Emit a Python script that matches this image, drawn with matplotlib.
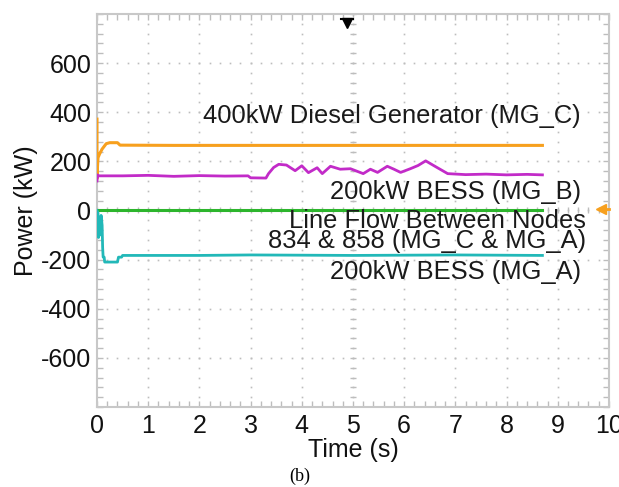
import matplotlib
matplotlib.use("Agg")
import matplotlib.pyplot as plt
import numpy as np

plt.rcParams['font.family'] = ['Liberation Sans', 'DejaVu Sans']
plt.rcParams['axes.unicode_minus'] = False

# ---- data ----
t_diesel = [0.0, 0.0, 0.01, 0.02, 0.05, 0.1, 0.18, 0.25, 0.4, 0.45, 1.5, 6.0, 8.7]
p_diesel = [372, 130, 180, 215, 230, 250, 272, 276, 276, 266, 265, 265, 265]

t_bessB = [0.0, 0.01, 0.03, 0.5, 1.0, 1.5, 2.0, 2.5, 2.95, 3.0, 3.3, 3.35, 3.45, 3.55, 3.7, 3.87, 4.0, 4.13,
           4.3, 4.4, 4.56, 4.75, 4.95, 5.2, 5.34, 5.48, 5.67, 5.8, 5.93, 6.12, 6.27, 6.42, 6.6,
           6.85, 7.2, 7.6, 8.0, 8.4, 8.7]
p_bessB = [120, 145, 141, 141, 143, 139, 142, 140, 141, 133, 132, 150, 175, 188, 185, 162, 182, 154,
           174, 150, 180, 168, 170, 150, 168, 155, 180, 168, 155, 170, 183, 202, 180,
           150, 146, 148, 145, 147, 145]

t_line = [0.0, 8.7]
p_line = [0, 0]

t_bessA = [0.0, 0.02, 0.03, 0.05, 0.06, 0.08, 0.1, 0.11, 0.12, 0.14, 0.15, 0.4, 0.42, 0.48, 0.5,
           2.0, 3.0, 5.0, 7.0, 8.7]
p_bessA = [0, -10, -110, -40, -100, -20, -60, -150, -190, -190, -210, -210, -190, -190, -183,
           -183, -181, -183, -181, -183]

x_ticks = [0, 1, 2, 3, 4, 5, 6, 7, 8, 9, 10]
y_ticks = [-600, -400, -200, 0, 200, 400, 600]

labels = ["400kW Diesel Generator (MG_C)", "200kW BESS (MG_B)",
          "Line Flow Between Nodes\n834 & 858 (MG_C & MG_A)", "200kW BESS (MG_A)"]

c_orange = "#F7A01E"
c_mag = "#C22BC8"
c_green = "#2DB52D"
c_cyan = "#22B8B8"
grid_c = "#BDBDBD"
txt_c = "#1a1a1a"

fig = plt.figure(figsize=(6.19, 4.87), dpi=100)
ax = fig.add_axes([0.1567, 0.1643, 0.8271, 0.807])
ax.set_xlim(0, 10)
ax.set_ylim(-800, 800)

# dotted graticule (dots at minor positions along major lines)
xm = np.arange(0, 10.001, 0.2)
ym = np.arange(-800, 800.1, 40)
for xv in x_ticks[1:-1]:
    ax.plot([xv] * len(ym), ym, ls='none', marker='s', ms=1.2, color=grid_c, mew=0, zorder=1)
for yv in y_ticks:
    ax.plot(xm, [yv] * len(xm), ls='none', marker='s', ms=1.2, color=grid_c, mew=0, zorder=1)
# centre graticule tick marks
ax.plot([5] * len(ym), ym, ls='none', marker='_', ms=4, color=grid_c, mew=1.0, zorder=1)
ax.plot(xm, [0] * len(xm), ls='none', marker='|', ms=4, color=grid_c, mew=1.0, zorder=1)

# traces
ax.plot(t_line, p_line, color=c_green, lw=2.2, zorder=3)
ax.plot(t_diesel, p_diesel, color=c_orange, lw=2.2, zorder=3)
ax.plot(t_bessB, p_bessB, color=c_mag, lw=2.0, zorder=3)
ax.plot(t_bessA, p_bessA, color=c_cyan, lw=2.0, zorder=3)

# annotations
fs = 18.4
ax.text(9.45, 385, labels[0], fontsize=fs, ha='right', va='center', color=txt_c)
ax.text(9.45, 75, labels[1], fontsize=fs, ha='right', va='center', color=txt_c)
ax.text(9.55, -84, labels[2], fontsize=fs, ha='right', va='center', color=txt_c,
        multialignment='right', linespacing=0.82)
ax.text(9.45, -252, labels[3], fontsize=fs, ha='right', va='center', color=txt_c)

# scope markers (trigger position / level)
ax.plot([4.89], [765], marker='v', ms=7, color='black', zorder=4, clip_on=False)
ax.plot([4.77, 5.01], [778, 778], color='black', lw=1.5, zorder=4, clip_on=False)
ax.plot([9.85], [5], marker='<', ms=7, color=c_orange, zorder=4, clip_on=False)
ax.plot([9.85, 10.0], [5, 5], color=c_orange, lw=2, zorder=4, clip_on=False)

ax.set_xticks(x_ticks)
ax.set_yticks(y_ticks)
ax.set_xticks(xm, minor=True)
ax.set_yticks(ym, minor=True)
ax.tick_params(which='both', direction='in', top=True, right=True, color=grid_c, width=1.0)
ax.tick_params(which='major', length=4, labelsize=18, labelcolor='#111111')
ax.tick_params(which='minor', length=4)
ax.tick_params(axis='x', which='major', pad=5)
ax.tick_params(axis='y', which='major', pad=4)
for s in ax.spines.values():
    s.set_color('#C8C8C8')
    s.set_linewidth(1.5)

ax.set_xlabel("Time (s)", fontsize=18, labelpad=0, color='#111111')
ax.set_ylabel("Power (kW)", fontsize=18, labelpad=2, color='#111111')

fig.text(0.485, 0.005, "(b)", fontsize=13, family=['Liberation Serif', 'DejaVu Serif'], ha='center', va='bottom')

fig.savefig("out.png", dpi=100)
